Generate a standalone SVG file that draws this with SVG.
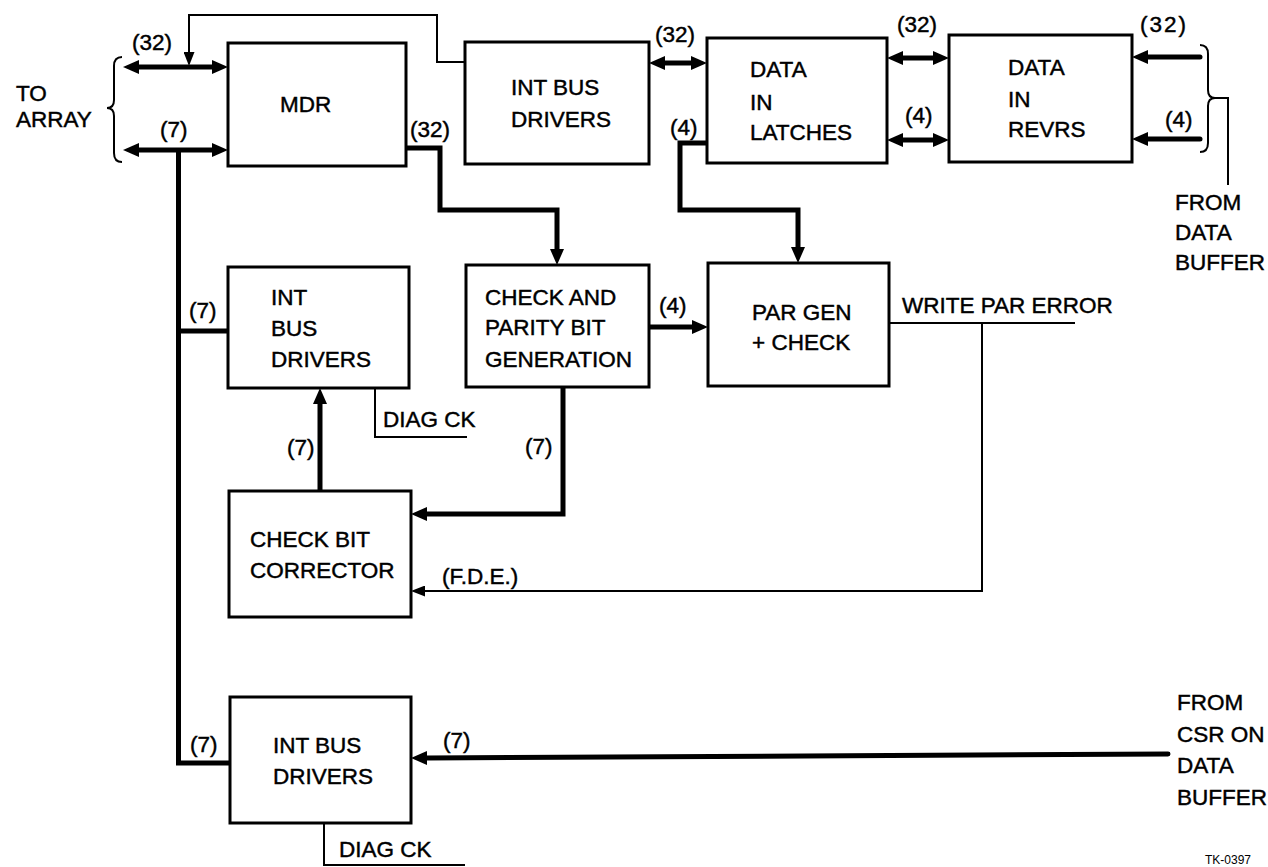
<svg xmlns="http://www.w3.org/2000/svg" width="1268" height="867" viewBox="0 0 1268 867">
<style>
  .box { fill: #fff; stroke: #000; stroke-width: 3; }
  .t { font-family: "Liberation Sans", Arial, sans-serif; font-size: 22.5px; fill: #000; stroke: #000; stroke-width: 0.45; }
  .ts { font-family: "Liberation Sans", Arial, sans-serif; font-size: 12px; fill: #000; }
  .thick { fill: none; stroke: #000; stroke-width: 5; stroke-linejoin: miter; }
  .thin { fill: none; stroke: #000; stroke-width: 2; }
</style>
<defs>
  <marker id="ah" viewBox="0 0 16 14" refX="0" refY="7" markerWidth="16" markerHeight="14" markerUnits="userSpaceOnUse" orient="auto-start-reverse">
    <path d="M0,0 L16,7 L0,14 z" fill="#000"/>
  </marker>
  <marker id="ahs" viewBox="0 0 14 11" refX="0" refY="5.5" markerWidth="14" markerHeight="11" markerUnits="userSpaceOnUse" orient="auto">
    <path d="M0,0 L14,5.5 L0,11 z" fill="#000"/>
  </marker>
</defs>

<g id="connectors">
  <line class="thick" x1="139" y1="67" x2="212" y2="67" marker-start="url(#ah)" marker-end="url(#ah)"/>
  <line class="thick" x1="139" y1="150" x2="212" y2="150" marker-start="url(#ah)" marker-end="url(#ah)"/>
  <path class="thin" d="M465,62 L437,62 L437,15 L189,15 L189,52" marker-end="url(#ahs)"/>
  <path class="thick" d="M178.5,150 L178.5,763 L230,763"/>
  <line class="thick" x1="178.5" y1="331" x2="228" y2="331"/>
  <path class="thick" d="M406,148 L440,148 L440,210 L557,210 L557,249" marker-end="url(#ah)"/>
  <line class="thick" x1="665" y1="63" x2="691" y2="63" marker-start="url(#ah)" marker-end="url(#ah)"/>
  <line class="thick" x1="903" y1="58" x2="933" y2="58" marker-start="url(#ah)" marker-end="url(#ah)"/>
  <line class="thick" x1="903" y1="140" x2="933" y2="140" marker-start="url(#ah)" marker-end="url(#ah)"/>
  <line class="thick" x1="1200" y1="57" x2="1148" y2="57" stroke-linecap="round" marker-end="url(#ah)"/>
  <line class="thick" x1="1200" y1="139" x2="1148" y2="139" stroke-linecap="round" marker-end="url(#ah)"/>
  <path class="thick" d="M707,143 L680,143 L680,210 L798,210 L798,247" marker-end="url(#ah)"/>
  <line class="thick" x1="649" y1="327" x2="692" y2="327" marker-end="url(#ah)"/>
  <line class="thick" x1="320" y1="491" x2="320" y2="404" marker-end="url(#ah)"/>
  <path class="thick" d="M563,387 L563,514 L427,514" marker-end="url(#ah)"/>
  <line class="thin" x1="889" y1="323" x2="1075" y2="323"/>
  <path class="thin" d="M982,323 L982,591 L425,591" marker-end="url(#ahs)"/>
  <path class="thin" d="M375,388 L375,437 L467,437"/>
  <line class="thick" x1="1168" y1="754" x2="427" y2="758" stroke-linecap="round" marker-end="url(#ah)"/>
  <path class="thin" d="M324,823 L324,865 L465,865"/>
  <path class="thin" d="M122,57 Q114,57 114,66 L114,100 Q114,108 107,108 Q114,108 114,116 L114,153 Q114,162 122,162"/>
  <path class="thin" d="M1200,45 Q1208,45 1208,54 L1208,90 Q1208,98 1215,98 Q1208,98 1208,106 L1208,143 Q1208,152 1200,152"/>
  <path class="thin" d="M1215,98 L1228,98 L1228,185"/>
</g>

<g id="mdr">
  <rect class="box" x="228" y="43" width="178" height="123"/>
  <text class="t" x="280" y="112">MDR</text>
</g>
<g id="int-bus-drivers-top">
  <rect class="box" x="465" y="42" width="184" height="122"/>
  <text class="t" x="511" y="95">INT BUS</text>
  <text class="t" x="511" y="127">DRIVERS</text>
</g>
<g id="data-in-latches">
  <rect class="box" x="707" y="38" width="180" height="125"/>
  <text class="t" x="750" y="77">DATA</text>
  <text class="t" x="750" y="110">IN</text>
  <text class="t" x="750" y="140">LATCHES</text>
</g>
<g id="data-in-revrs">
  <rect class="box" x="949" y="35" width="183" height="127"/>
  <text class="t" x="1008" y="75">DATA</text>
  <text class="t" x="1008" y="107">IN</text>
  <text class="t" x="1008" y="137">REVRS</text>
</g>
<g id="int-bus-drivers-mid">
  <rect class="box" x="228" y="267" width="181" height="121"/>
  <text class="t" x="271" y="305">INT</text>
  <text class="t" x="271" y="336">BUS</text>
  <text class="t" x="271" y="367">DRIVERS</text>
</g>
<g id="check-parity">
  <rect class="box" x="466" y="265" width="183" height="122"/>
  <text class="t" x="485" y="305">CHECK AND</text>
  <text class="t" x="485" y="335">PARITY BIT</text>
  <text class="t" x="485" y="367">GENERATION</text>
</g>
<g id="par-gen">
  <rect class="box" x="708" y="263" width="181" height="123"/>
  <text class="t" x="752" y="320">PAR GEN</text>
  <text class="t" x="752" y="350">+ CHECK</text>
</g>
<g id="check-bit-corrector">
  <rect class="box" x="229" y="491" width="182" height="126"/>
  <text class="t" x="250" y="547">CHECK BIT</text>
  <text class="t" x="250" y="578">CORRECTOR</text>
</g>
<g id="int-bus-drivers-bottom">
  <rect class="box" x="230" y="697" width="181" height="126"/>
  <text class="t" x="273" y="753">INT BUS</text>
  <text class="t" x="273" y="784">DRIVERS</text>
</g>

<g id="labels">
  <text class="t" x="16" y="101">TO</text>
  <text class="t" x="16" y="127">ARRAY</text>
  <text class="t" x="132" y="50">(32)</text>
  <text class="t" x="160" y="137">(7)</text>
  <text class="t" x="410" y="137">(32)</text>
  <text class="t" x="655" y="42">(32)</text>
  <text class="t" x="670" y="135">(4)</text>
  <text class="t" x="897" y="32">(32)</text>
  <text class="t" x="905" y="123">(4)</text>
  <text class="t" x="1140" y="32" letter-spacing="2">(32)</text>
  <text class="t" x="1165" y="127">(4)</text>
  <text class="t" x="1175" y="210">FROM</text>
  <text class="t" x="1175" y="240">DATA</text>
  <text class="t" x="1175" y="270">BUFFER</text>
  <text class="t" x="189" y="318">(7)</text>
  <text class="t" x="659" y="313">(4)</text>
  <text class="t" x="902" y="313">WRITE PAR ERROR</text>
  <text class="t" x="383" y="427">DIAG CK</text>
  <text class="t" x="287" y="455">(7)</text>
  <text class="t" x="525" y="454">(7)</text>
  <text class="t" x="442" y="584">(F.D.E.)</text>
  <text class="t" x="190" y="752">(7)</text>
  <text class="t" x="443" y="748">(7)</text>
  <text class="t" x="339" y="857">DIAG CK</text>
  <text class="t" x="1177" y="710">FROM</text>
  <text class="t" x="1177" y="742">CSR ON</text>
  <text class="t" x="1177" y="773">DATA</text>
  <text class="t" x="1177" y="805">BUFFER</text>
  <text class="ts" x="1205" y="864">TK-0397</text>
</g>
</svg>
